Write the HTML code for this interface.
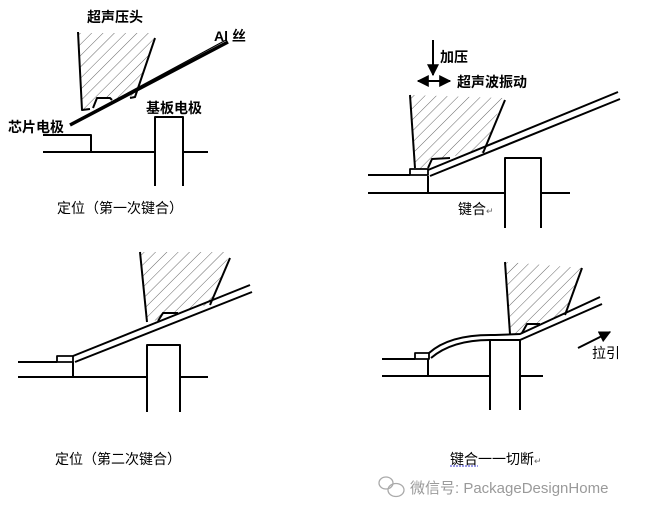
<!DOCTYPE html>
<html><head><meta charset="utf-8"><style>
html,body{margin:0;padding:0;background:#fff}
svg{display:block}
text{font-family:"Liberation Sans","Noto Sans CJK SC",sans-serif;fill:#000}
</style></head><body>
<svg width="645" height="516" viewBox="0 0 645 516" xmlns="http://www.w3.org/2000/svg">
<defs>
<pattern id="h" width="8" height="8" patternUnits="userSpaceOnUse" patternTransform="rotate(45)">
<line x1="0" y1="0" x2="0" y2="8" stroke="#555" stroke-width="0.9"/>
</pattern>
<marker id="ar" viewBox="0 0 10 10" refX="9" refY="5" markerWidth="6" markerHeight="6" orient="auto-start-reverse"><path d="M0,0L10,5L0,10z" fill="#000"/></marker>
</defs>
<g fill="none" stroke="#000" stroke-width="2" stroke-linejoin="round">
<!-- Panel 1 -->
<polygon points="79,33 155,33 137,96 114,98 110,97 97,98 93,108 82,110" fill="url(#h)" stroke="none"/>
<polyline points="78,32 82,110 90,109"/>
<polyline points="155,38 135,97 130,98"/>
<polyline points="93,108 97,98 110,98 112,100"/>
<line x1="70" y1="125" x2="228" y2="42" stroke-width="3.5"/>
<line x1="76" y1="121" x2="226" y2="40" stroke-width="1.2"/>
<polyline points="43,135 91,135 91,152"/>
<line x1="43" y1="152" x2="155" y2="152"/>
<line x1="183" y1="152" x2="208" y2="152"/>
<polyline points="155,186 155,117 183,117 183,186"/>
<!-- Panel 2 -->
<polygon points="411,95 503,98 484,152 440,158 433,160 427,170 415,168" fill="url(#h)" stroke="none"/>
<line x1="410" y1="95" x2="415" y2="168"/>
<line x1="505" y1="100" x2="483" y2="153"/>
<polyline points="428,168 432,159 450,158"/>
<rect x="410" y="169" width="18" height="6" stroke-width="1.8"/>
<line x1="428" y1="170" x2="618" y2="92"/>
<line x1="430" y1="176" x2="620" y2="99"/>
<polyline points="368,175 410,175"/>
<polyline points="428,176 428,193"/>
<line x1="368" y1="193" x2="505" y2="193"/>
<line x1="541" y1="193" x2="570" y2="193"/>
<polyline points="505,228 505,158 541,158 541,228"/>
<line x1="433" y1="40" x2="433" y2="75" marker-end="url(#ar)"/>
<line x1="418" y1="81" x2="450" y2="81" marker-start="url(#ar)" marker-end="url(#ar)"/>
<!-- Panel 3 -->
<polygon points="141,252 230,252 212,304 195,308 178,313 163,313 158,320 147,322" fill="url(#h)" stroke="none"/>
<line x1="140" y1="252" x2="147" y2="322"/>
<line x1="230" y1="258" x2="210" y2="305"/>
<polyline points="158,321 163,313 178,313"/>
<rect x="57" y="356" width="16" height="6" stroke-width="1.8"/>
<line x1="73" y1="356" x2="250" y2="285"/>
<line x1="75" y1="362" x2="252" y2="292"/>
<line x1="18" y1="362" x2="57" y2="362"/>
<line x1="73" y1="362" x2="73" y2="377"/>
<line x1="18" y1="377" x2="147" y2="377"/>
<line x1="180" y1="377" x2="208" y2="377"/>
<polyline points="147,412 147,345 180,345 180,412"/>
<!-- Panel 4 -->
<polygon points="506,262 582,268 566,314 540,325 525,326 520,334 511,334" fill="url(#h)" stroke="none"/>
<line x1="505" y1="262" x2="510" y2="334"/>
<line x1="582" y1="268" x2="565" y2="315"/>
<polyline points="522,333 527,324 540,324"/>
<rect x="415" y="353" width="14" height="6" stroke-width="1.8"/>
<path d="M429,353 Q450,334 495,335 L520,334 L600,297"/>
<path d="M431,358 Q452,340 490,340 L520,340 L602,304"/>
<line x1="382" y1="359" x2="415" y2="359"/>
<line x1="428" y1="359" x2="428" y2="376"/>
<line x1="382" y1="376" x2="490" y2="376"/>
<line x1="520" y1="376" x2="543" y2="376"/>
<polyline points="490,410 490,340 520,340 520,410"/>
<line x1="578" y1="348" x2="610" y2="332" marker-end="url(#ar)"/>
</g>
<g font-size="14">
<text x="87" y="22" font-weight="bold">超声压头</text>
<text x="214" y="41" font-weight="bold">Al 丝</text>
<text x="8" y="132" font-weight="bold">芯片电极</text>
<text x="146" y="113" font-weight="bold">基板电极</text>
<text x="57" y="213">定位（第一次键合）</text>
<text x="440" y="62" font-weight="bold">加压</text>
<text x="457" y="87" font-weight="bold">超声波振动</text>
<text x="458" y="214">键合<tspan font-size="9" fill="#666">↵</tspan></text>
<text x="55" y="464">定位（第二次键合）</text>
<text x="592" y="358">拉引</text>
<text x="450" y="464">键合一一切断<tspan font-size="9" fill="#666">↵</tspan></text>
</g>
<line x1="450" y1="466" x2="478" y2="466" stroke="#33c" stroke-width="1" stroke-dasharray="2,1"/>
<g fill="none" stroke="#aaa" stroke-width="1.3">
<ellipse cx="386" cy="483" rx="7" ry="6"/>
<ellipse cx="396" cy="490" rx="8" ry="6.5"/>
</g>
<text x="410" y="493" font-size="15" style="fill:#9a9a9a">微信号: PackageDesignHome</text>
</svg>
</body></html>
